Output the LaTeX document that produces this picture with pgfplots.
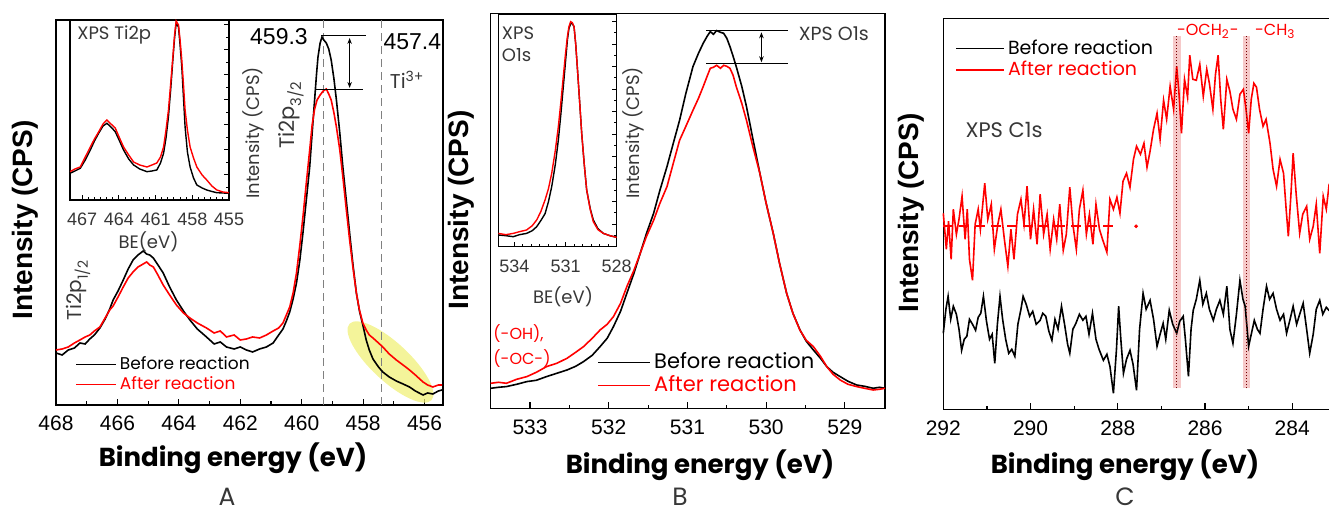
\documentclass[border=0pt]{standalone}
\usepackage{fontspec}
\setmainfont{Liberation Sans}
\newfontfamily\gothic{Poppins}
\usepackage{pgfplots}
\pgfplotsset{compat=1.18}
\usetikzlibrary{shapes.geometric,arrows.meta}

\definecolor{txt}{RGB}{55,55,55}
\definecolor{band}{RGB}{244,188,188}
\definecolor{hl}{RGB}{240,240,120}

\pgfplotsset{
  xps/.style={
    scale only axis, x dir=reverse, ymin=0, clip=false,
    axis line style={line width=0.75pt},
    ymajorticks=false, yminorticks=false,
    xtick pos=left, tick align=inside,
    major tick length=3pt, minor tick length=1.8pt,
    every tick/.style={black, line width=0.6pt},
    minor x tick num=1,
    /pgf/number format/assume math mode=true,
    /pgf/number format/1000 sep={},
    xticklabel style={font=\fontsize{10.5}{12}\selectfont, yshift=-2pt},
    legend style={draw=none, fill=none, inner sep=0pt, anchor=west,
      nodes={inner xsep=1.5pt, inner ysep=0.5pt}},
    legend cell align=left,
  },
  inset/.style={
    scale only axis, x dir=reverse, ymin=0,
    axis line style={line width=0.6pt},
    xtick pos=left, ytick pos=right, tick align=inside,
    major tick length=2.5pt, minor tick length=1.5pt,
    every tick/.style={black, line width=0.5pt},
    yticklabels={}, minor y tick num=1, minor x tick num=5,
    /pgf/number format/assume math mode=true,
    /pgf/number format/1000 sep={},
    xticklabel style={font=\fontsize{9}{10}\selectfont, text=txt, yshift=-3pt},
  },
  before/.style={black, line width=0.8pt},
  after/.style={red, line width=0.8pt},
}

\begin{document}
\begin{tikzpicture}
\useasboundingbox (0,0) rectangle (664.5pt,256pt);

% ---------------- panel A : Ti2p ----------------
\begin{axis}[xps, at={(28pt,53.5pt)}, anchor=south west,
  width=193.5pt, height=192.5pt,
  xmin=455.4, xmax=468, ymax=385, xtick={456,458,...,468},
  legend style={at={(0.049,0.079)}, font=\gothic\fontsize{8.5}{10}\selectfont, row sep=1pt},
  legend image code/.code={\draw[#1] (0pt,0pt) -- (20pt,0pt);}]
\node[ellipse, fill=hl, fill opacity=0.75, minimum width=56pt, minimum height=19pt,
  inner sep=0pt, rotate=-43] at (axis cs:457.11,43) {};
\draw[gray, line width=0.6pt, dash pattern=on 4pt off 2.5pt] (axis cs:459.3,0) -- (axis cs:459.3,385);
\draw[gray, line width=0.6pt, dash pattern=on 4pt off 2.5pt] (axis cs:457.4,0) -- (axis cs:457.4,385);
\addplot[before] coordinates {
(468.00,52) (467.80,50) (467.60,55) (467.40,57) (467.22,62) (467.05,61) (466.90,66)
(466.75,70) (466.57,77) (466.40,86) (466.25,96) (466.14,105) (465.98,114) (465.81,125)
(465.65,136) (465.49,145) (465.33,150) (465.16,154) (465.05,151) (464.95,150) (464.83,147)
(464.70,141) (464.51,132) (464.30,118) (464.08,105) (463.85,94) (463.64,85) (463.40,76)
(463.10,68) (462.85,61) (462.65,63) (462.45,58) (462.20,56) (462.00,58) (461.80,55)
(461.60,53) (461.37,56) (461.15,58) (460.93,62) (460.75,70) (460.61,76) (460.50,84)
(460.39,93) (460.28,106) (460.17,122) (460.06,145) (459.96,172) (459.85,205) (459.74,238)
(459.66,272) (459.58,305) (459.52,330) (459.47,348) (459.40,362) (459.34,368) (459.28,365)
(459.20,362) (459.12,356) (459.04,345) (458.95,326) (458.87,305) (458.76,272) (458.66,238)
(458.55,205) (458.44,172) (458.33,140) (458.22,112) (458.12,94) (458.01,80) (457.90,65)
(457.80,55) (457.68,46) (457.50,38) (457.36,33) (457.15,28) (456.92,24) (456.70,21)
(456.49,18) (456.30,14) (456.05,10) (455.90,12) (455.73,11) (455.55,14) (455.43,15)};
\addplot[after] coordinates {
(468.00,55) (467.80,56) (467.60,58) (467.40,62) (467.22,65) (467.05,68) (466.90,70)
(466.75,74) (466.57,78) (466.40,87) (466.25,95) (466.14,99) (465.98,108) (465.81,118)
(465.65,127) (465.49,133) (465.33,138) (465.16,141) (465.05,143) (464.95,140) (464.83,138)
(464.70,131) (464.51,120) (464.30,110) (464.08,100) (463.85,92) (463.64,87) (463.40,82)
(463.10,77) (462.85,72) (462.65,74) (462.45,68) (462.20,70) (462.00,65) (461.80,66)
(461.60,68) (461.37,67) (461.15,70) (460.93,74) (460.75,77) (460.61,82) (460.50,90)
(460.39,98) (460.28,112) (460.17,132) (460.06,160) (459.96,188) (459.85,222) (459.74,255)
(459.66,280) (459.58,296) (459.50,305) (459.40,310) (459.30,314) (459.20,316) (459.12,311)
(459.04,305) (458.95,292) (458.87,278) (458.76,255) (458.66,228) (458.55,196) (458.44,165)
(458.33,137) (458.22,112) (458.12,95) (458.01,82) (457.90,75) (457.80,70) (457.68,67)
(457.50,62) (457.36,58) (457.15,51) (456.92,45) (456.70,40) (456.49,35) (456.30,30)
(456.05,23) (455.90,20) (455.73,18) (455.55,20) (455.43,20)};
\legend{Before reaction, \textcolor{red}{After reaction}}
\draw[line width=0.5pt] (axis cs:459.36,369) -- (axis cs:457.9,369);
\draw[line width=0.5pt] (axis cs:459.52,315) -- (axis cs:458.0,315);
\draw[{Stealth[length=3pt]}-{Stealth[length=3pt]}, line width=0.5pt]
  (axis cs:458.44,367) -- (axis cs:458.44,317);
\node[anchor=east, inner sep=0pt, font=\fontsize{11.5}{12}\selectfont] at (axis cs:459.79,368) {459.3};
\node[anchor=west, inner sep=0pt, font=\fontsize{11.5}{12}\selectfont] at (axis cs:457.35,363) {457.4};
\node[anchor=west, inner sep=0pt, text=txt, font=\gothic\fontsize{10}{11}\selectfont] at (axis cs:457.14,325) {Ti\textsuperscript{3+}};
\node[rotate=90, inner sep=0pt, text=txt, font=\gothic\fontsize{10.5}{11}\selectfont] at (axis cs:460.34,290) {Ti2p\textsubscript{3/2}};
\node[rotate=90, inner sep=0pt, text=txt, font=\gothic\fontsize{10}{11}\selectfont] at (axis cs:467.27,115) {Ti2p\textsubscript{1/2}};
\end{axis}

% inset A
\begin{axis}[inset, at={(35pt,156pt)}, anchor=south west,
  width=79.5pt, height=90pt, xmin=455, xmax=468, ymax=180,
  xtick={455,458,...,467}, ytick={0,25,...,175}]
\addplot[before, line width=0.7pt] coordinates {
(468,26.7) (467.6,29) (467.16,31.7) (466.75,40) (466.34,50) (466.0,59) (465.66,66.7)
(465.3,74) (464.98,76.7) (464.65,73) (464.30,68.3) (463.95,59) (463.62,50) (463.2,41)
(462.80,35) (462.3,31) (461.71,28.3) (461.3,29) (460.9,30) (460.6,37) (460.35,46.7)
(460.15,62) (459.95,83.3) (459.77,110) (459.59,140) (459.45,162) (459.32,176.7)
(459.13,173) (459.0,155) (458.86,133) (458.72,102) (458.59,73) (458.4,48) (458.18,33)
(457.9,22) (457.63,15) (457.2,12) (456.82,10) (456.4,8.5) (456.0,7.3) (455.5,7) (455.02,6.7)};
\addplot[after, line width=0.7pt] coordinates {
(468,28.3) (467.6,31) (467.16,33) (466.75,43) (466.34,53) (466.0,61) (465.66,68)
(465.3,76) (464.98,80) (464.65,76) (464.30,72) (463.95,62) (463.62,53) (463.2,45)
(462.80,38) (462.3,35) (461.71,33) (461.3,35) (460.9,37) (460.6,43) (460.35,53)
(460.15,70) (459.95,90) (459.77,116) (459.59,143) (459.45,165) (459.32,179)
(459.13,175) (459.0,160) (458.86,140) (458.72,115) (458.59,90) (458.4,70) (458.18,53)
(457.9,42) (457.63,33) (457.2,25) (456.82,20) (456.4,14) (456.0,10) (455.5,8) (455.02,7.3)};
\node[anchor=west, inner sep=0pt, text=txt, font=\gothic\fontsize{9}{10}\selectfont] at (axis cs:467.43,165) {XPS Ti2p};
\end{axis}

% ---------------- panel B : O1s ----------------
\begin{axis}[xps, at={(245.35pt,51.85pt)}, anchor=south west,
  width=197.15pt, height=197.5pt,
  xmin=528.49, xmax=533.5, ymax=395, xtick={529,...,533},
  legend style={at={(0.27,0.087)}, font=\gothic\fontsize{10.5}{12}\selectfont, row sep=1pt},
  legend image code/.code={\draw[#1] (0pt,0pt) -- (26pt,0pt);}]
\addplot[before] coordinates {
(533.50,20) (533.40,21) (533.30,21.7) (533.17,24) (533.04,26.7) (532.92,28) (532.79,31.7)
(532.66,35) (532.53,38.3) (532.42,42) (532.32,46.7) (532.21,53) (532.11,61.7) (532.02,70)
(531.94,81.7) (531.85,97) (531.77,115) (531.68,135) (531.60,155) (531.52,175) (531.43,195)
(531.35,218) (531.26,241.7) (531.18,265) (531.10,288) (531.02,315) (530.93,341.7)
(530.86,355) (530.80,365) (530.75,372) (530.71,376.7) (530.67,374) (530.63,377.7)
(530.58,376) (530.54,375) (530.50,370) (530.46,361.7) (530.42,352) (530.38,341.7)
(530.31,322) (530.25,301.7) (530.17,270) (530.08,235) (530.00,205) (529.91,175)
(529.83,145) (529.74,115) (529.66,95) (529.57,78.3) (529.49,67) (529.40,58.3)
(529.31,50) (529.23,41.7) (529.15,36) (529.06,31.7) (528.96,27) (528.85,23.3)
(528.75,22) (528.64,20) (528.56,21) (528.49,20)};
\addplot[after] coordinates {
(533.50,25) (533.40,26) (533.30,25) (533.17,29) (533.04,31.7) (532.92,36) (532.79,41.7)
(532.66,45) (532.53,50) (532.42,56) (532.32,61.7) (532.21,70) (532.11,78.3) (532.02,84)
(531.94,91.7) (531.85,105) (531.77,121.7) (531.68,138) (531.60,155) (531.52,172) (531.43,188)
(531.35,205) (531.26,221.7) (531.18,245) (531.10,268) (531.02,282) (530.93,298)
(530.86,310) (530.80,321.7) (530.75,332) (530.71,340) (530.67,341) (530.63,343)
(530.58,340) (530.54,343) (530.50,342) (530.46,340) (530.42,333) (530.38,321.7)
(530.31,305) (530.25,288) (530.17,262) (530.08,235) (530.00,205) (529.91,175)
(529.83,145) (529.74,115) (529.66,95) (529.57,78) (529.49,68) (529.40,61.7)
(529.31,52) (529.23,41.7) (529.15,34) (529.06,28.3) (528.96,24) (528.85,21.7)
(528.75,20) (528.64,18.3) (528.56,19) (528.49,20)};
\legend{Before reaction, \textcolor{red}{After reaction}}
\draw[line width=0.5pt] (axis cs:530.76,377.7) -- (axis cs:529.72,377.7);
\draw[line width=0.5pt] (axis cs:530.76,344.3) -- (axis cs:529.72,344.3);
\draw[{Stealth[length=3pt]}-{Stealth[length=3pt]}, line width=0.5pt]
  (axis cs:530.06,376) -- (axis cs:530.06,346);
\node[anchor=west, inner sep=0pt, text=txt, font=\gothic\fontsize{9.5}{10}\selectfont] at (axis cs:529.59,375) {XPS O1s};
\node[anchor=west, inner sep=0pt, align=left, text=red, font=\gothic\fontsize{8}{12.5}\selectfont] at (axis cs:533.47,62.5) {(-OH),\\(-OC-)};
\end{axis}

% inset B
\begin{axis}[inset, at={(249.15pt,132.65pt)}, anchor=south west,
  width=59.2pt, height=116.35pt, xmin=528, xmax=534.94, ymax=232.7,
  xtick={528,531,534}, ytick={0,22.5,...,225}]
\addplot[before, line width=0.7pt] coordinates {
(534.94,11.7) (534.5,11) (534.06,10) (533.7,12) (533.28,13.3) (532.95,16) (532.69,20)
(532.45,26) (532.20,33) (532.0,45) (531.81,60) (531.6,82) (531.42,106.7) (531.27,133)
(531.13,160) (531.0,185) (530.89,206.7) (530.80,218) (530.70,223) (530.60,223)
(530.50,220) (530.40,202) (530.31,180) (530.18,147) (530.05,113) (529.9,82)
(529.76,56.7) (529.55,38) (529.37,26.7) (529.1,18) (528.78,13.3) (528.4,11) (528.0,9.3)};
\addplot[after, line width=0.7pt] coordinates {
(534.94,13.3) (534.5,12) (534.06,13.3) (533.7,15) (533.28,16.7) (532.95,21) (532.69,26.7)
(532.45,35) (532.20,46.7) (532.0,58) (531.81,73.3) (531.6,96) (531.42,120) (531.27,145)
(531.13,170) (531.0,193) (530.89,210) (530.80,220) (530.70,225) (530.60,224)
(530.50,220) (530.40,202) (530.31,180) (530.18,147) (530.05,113) (529.9,82)
(529.76,56.7) (529.55,37) (529.37,25) (529.1,17) (528.78,13.3) (528.4,11) (528.0,9.3)};
\node[anchor=west, inner sep=0pt, align=left, text=txt, font=\gothic\fontsize{9}{11}\selectfont] at (axis cs:534.75,202.7) {XPS\\O1s};
\end{axis}

% ---------------- panel C : C1s ----------------
\begin{axis}[xps, at={(471.65pt,51.35pt)}, anchor=south west,
  width=195.85pt, height=195.5pt,
  xmin=283.02, xmax=292, ymax=391, xtick={284,286,...,292},
  legend style={at={(0.03,0.895)}, font=\gothic\fontsize{9.5}{11}\selectfont, row sep=1pt},
  legend image code/.code={\draw[#1] (0pt,0pt) -- (24pt,0pt);}]
\fill[band, fill opacity=0.8] (axis cs:286.73,21) rectangle (axis cs:286.54,373);
\fill[band, fill opacity=0.8] (axis cs:285.12,21) rectangle (axis cs:284.96,373);
\addplot[before] coordinates {
(292.00,76) (291.94,100) (291.89,113) (291.83,90) (291.77,103) (291.70,95) (291.64,80)
(291.58,59) (291.52,70) (291.46,73) (291.40,90) (291.33,85) (291.26,79) (291.20,92)
(291.14,96) (291.08,113) (291.01,88) (290.94,70) (290.88,75) (290.82,46) (290.76,85)
(290.70,113) (290.64,90) (290.57,70) (290.50,56) (290.43,60) (290.36,53) (290.29,85)
(290.22,100) (290.17,113) (290.10,105) (290.02,93) (289.95,98) (289.87,85) (289.78,89)
(289.72,96) (289.65,93) (289.58,78) (289.51,69) (289.44,90) (289.37,80) (289.29,103)
(289.22,85) (289.15,65) (289.10,56) (289.03,80) (288.96,86) (288.88,95) (288.80,89)
(288.73,93) (288.66,75) (288.58,96) (288.50,70) (288.43,60) (288.33,49) (288.25,55)
(288.18,43) (288.10,16) (288.03,60) (287.98,103) (287.93,70) (287.87,36) (287.80,50)
(287.72,59) (287.65,45) (287.57,19) (287.50,80) (287.42,116) (287.35,100) (287.26,109)
(287.18,90) (287.10,63) (287.03,75) (286.96,86) (286.90,70) (286.82,99) (286.74,85)
(286.65,76) (286.58,88) (286.50,93) (286.45,70) (286.38,33) (286.32,80) (286.27,99)
(286.20,110) (286.12,129) (286.05,105) (285.97,116) (285.90,100) (285.81,89) (285.74,100)
(285.66,109) (285.58,95) (285.50,123) (285.43,80) (285.36,66) (285.28,95) (285.20,129)
(285.13,110) (285.08,103) (285.00,63) (284.94,75) (284.87,89) (284.80,80) (284.74,76)
(284.67,100) (284.59,123) (284.52,110) (284.44,116) (284.36,100) (284.28,89) (284.20,95)
(284.13,76) (284.05,90) (283.98,103) (283.90,85) (283.83,95) (283.75,106) (283.67,80)
(283.60,56) (283.52,75) (283.45,100) (283.37,109) (283.30,95) (283.22,102) (283.16,99)
(283.02,95)};
\addplot[after] coordinates {
(292.00,196) (291.93,160) (291.88,188) (291.82,150) (291.77,200) (291.70,175) (291.64,190)
(291.57,213) (291.50,170) (291.45,200) (291.40,150) (291.33,129) (291.27,185) (291.20,200)
(291.15,180) (291.05,226) (290.98,190) (290.90,205) (290.83,160) (290.75,185) (290.68,200)
(290.60,170) (290.52,143) (290.45,180) (290.38,150) (290.30,195) (290.22,210) (290.15,185)
(290.08,223) (290.00,170) (289.93,200) (289.85,165) (289.78,215) (289.70,175) (289.62,195)
(289.55,160) (289.47,190) (289.40,170) (289.33,205) (289.25,159) (289.18,175) (289.10,222)
(289.03,185) (288.95,160) (288.88,200) (288.80,219) (288.72,175) (288.65,195) (288.57,165)
(288.50,205) (288.42,180) (288.35,170) (288.25,157) (288.18,210) (288.10,200) (288.02,212)
(287.95,196) (287.88,228) (287.80,236) (287.72,222) (287.64,250) (287.57,263) (287.48,255)
(287.40,266) (287.33,242) (287.26,258) (287.18,280) (287.10,296) (287.03,270) (286.95,309)
(286.88,290) (286.80,323) (286.72,300) (286.65,343) (286.60,318) (286.54,276) (286.47,330)
(286.40,312) (286.35,354) (286.28,330) (286.20,329) (286.12,345) (286.04,313) (285.96,340)
(285.90,326) (285.82,300) (285.76,335) (285.70,354) (285.64,310) (285.58,280) (285.50,330)
(285.43,318) (285.36,300) (285.28,290) (285.20,315) (285.12,320) (285.06,300) (285.00,276)
(284.94,310) (284.88,326) (284.82,322) (284.75,300) (284.67,283) (284.60,290) (284.51,266)
(284.44,240) (284.36,223) (284.28,250) (284.20,236) (284.14,200) (284.09,173) (284.03,215)
(283.98,256) (283.91,215) (283.83,176) (283.76,195) (283.67,203) (283.60,170) (283.52,183)
(283.45,205) (283.37,156) (283.29,213) (283.22,200) (283.16,223) (283.02,210)};
\legend{Before reaction, \textcolor{red}{After reaction}}
\addplot[red, line width=1pt, dash pattern=on 5pt off 3pt, forget plot] coordinates {(292,183) (288.1,183)};
\addplot[red, only marks, mark=*, mark size=0.7pt, forget plot] coordinates {(287.58,183)};
\draw[red!45!black, densely dotted, line width=0.5pt] (axis cs:286.66,21) -- (axis cs:286.66,373);
\draw[red!45!black, densely dotted, line width=0.5pt] (axis cs:285.05,21) -- (axis cs:285.05,373);
\node[anchor=west, inner sep=0pt, text=red, font=\gothic\fontsize{8}{9}\selectfont] at (axis cs:286.65,377.7) {-OCH\textsubscript{2}-};
\node[anchor=west, inner sep=0pt, text=red, font=\gothic\fontsize{8}{9}\selectfont] at (axis cs:284.86,377.7) {-CH\textsubscript{3}};
\node[anchor=west, inner sep=0pt, text=txt, font=\gothic\fontsize{10.5}{12}\selectfont] at (axis cs:291.5,279.3) {XPS C1s};
\end{axis}

% ---------------- labels outside the axes (pixel grid) ----------------
\begin{scope}[x=0.5pt, y=-0.5pt, shift={(0pt,256pt)}]
\node[rotate=90, font=\bfseries\fontsize{14}{16}\selectfont] at (25,220) {Intensity (CPS)};
\node[rotate=90, font=\bfseries\fontsize{14}{16}\selectfont] at (461.7,210) {Intensity (CPS)};
\node[rotate=90, font=\bfseries\fontsize{14}{16}\selectfont] at (911.7,213) {Intensity (CPS)};
\node[font=\gothic\bfseries\fontsize{13}{16}\selectfont] at (233,458) {Binding energy (eV)};
\node[font=\gothic\bfseries\fontsize{13}{16}\selectfont] at (700,465) {Binding energy (eV)};
\node[font=\gothic\bfseries\fontsize{13}{16}\selectfont] at (1125,465) {Binding energy (eV)};
\node[inner sep=0pt, font=\gothic\fontsize{12.5}{14}\selectfont, text=txt] at (227,497) {A};
\node[inner sep=0pt, font=\gothic\fontsize{12.5}{14}\selectfont, text=txt] at (680,497) {B};
\node[inner sep=0pt, font=\gothic\fontsize{12.5}{14}\selectfont, text=txt] at (1125,497) {C};
\node[font=\gothic\fontsize{9}{10}\selectfont, text=txt] at (148.5,242) {BE(eV)};
\node[font=\gothic\fontsize{9}{10}\selectfont, text=txt] at (563,297) {BE(eV)};
\node[rotate=90, font=\gothic\fontsize{9}{10}\selectfont, text=txt] at (253,133) {Intensity (CPS)};
\node[rotate=90, font=\gothic\fontsize{9}{10}\selectfont, text=txt] at (633,133) {Intensity (CPS)};
\end{scope}
\end{tikzpicture}
\end{document}
